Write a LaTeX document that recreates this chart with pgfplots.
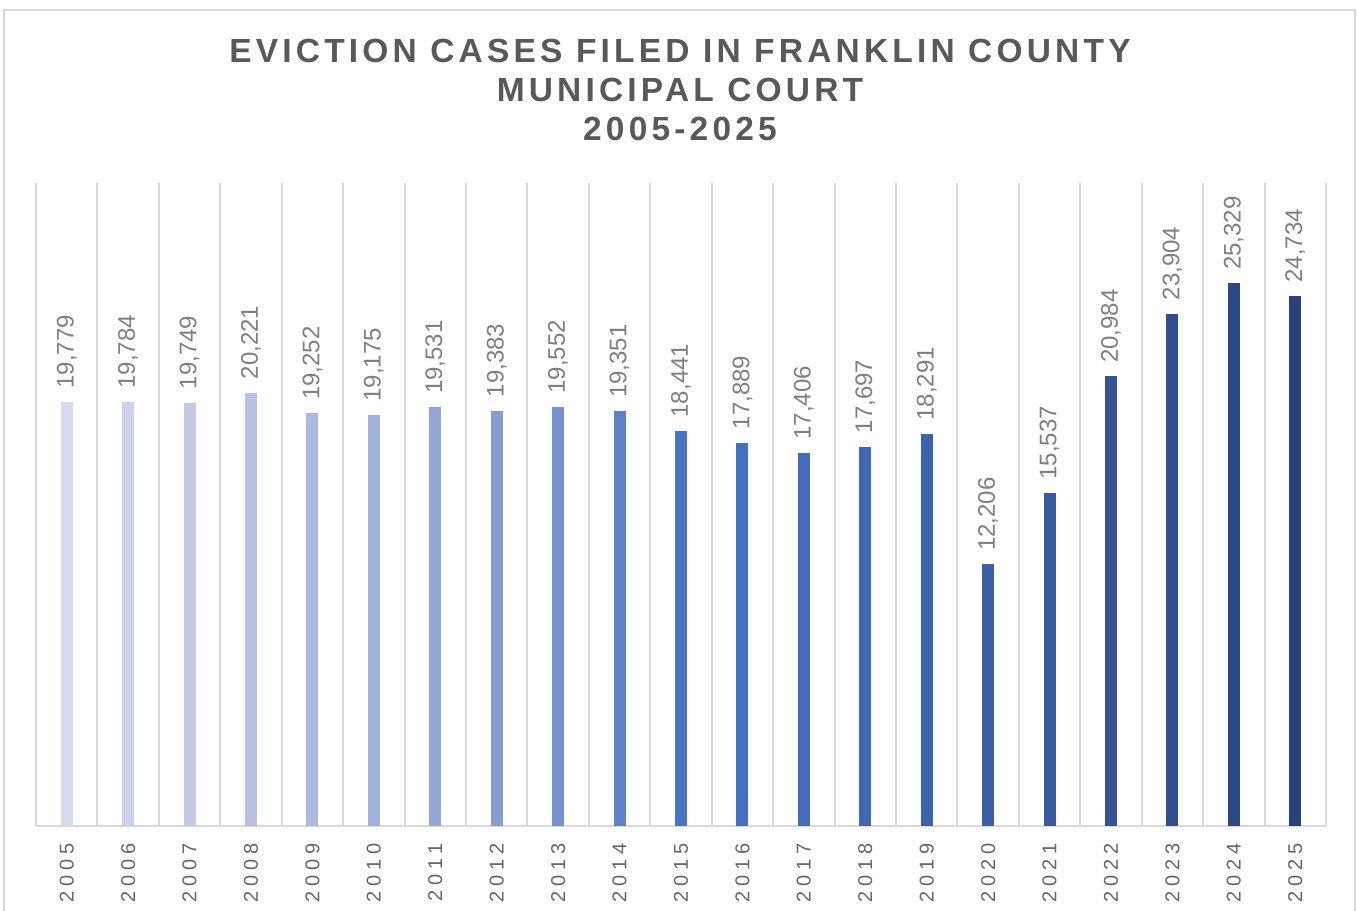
\documentclass[border=0pt]{standalone}
\usepackage{fontspec}
\setmainfont{Liberation Sans}
\newfontfamily\titlefont{Liberation Sans}[LetterSpace=12.5]
\newfontfamily\tickfont{Liberation Sans}[LetterSpace=25]
\usepackage{pgfplots}
\pgfplotsset{compat=1.18}

\definecolor{bordergray}{HTML}{D9D9D9}
\definecolor{titlegray}{HTML}{595959}
\definecolor{labelgray}{HTML}{7F7F7F}
\definecolor{tickgray}{HTML}{666666}
\definecolor{c0}{HTML}{D5DAEC}
\definecolor{c1}{HTML}{CBD2EA}
\definecolor{c2}{HTML}{C2CAE6}
\definecolor{c3}{HTML}{B7C1E2}
\definecolor{c4}{HTML}{ACB8DF}
\definecolor{c5}{HTML}{A1AFDB}
\definecolor{c6}{HTML}{95A6D8}
\definecolor{c7}{HTML}{889CD4}
\definecolor{c8}{HTML}{7591CF}
\definecolor{c9}{HTML}{5E82CA}
\definecolor{c10}{HTML}{4874C5}
\definecolor{c11}{HTML}{4470C2}
\definecolor{c12}{HTML}{426CBB}
\definecolor{c13}{HTML}{3F67B3}
\definecolor{c14}{HTML}{3C63AC}
\definecolor{c15}{HTML}{3A5FA6}
\definecolor{c16}{HTML}{38599F}
\definecolor{c17}{HTML}{345497}
\definecolor{c18}{HTML}{2F4E8D}
\definecolor{c19}{HTML}{2A4884}
\definecolor{c20}{HTML}{27437B}

\begin{document}
\begin{tikzpicture}
% chart area border (bottom edge is cut off in the reference)
\draw[bordergray, line width=0.9pt] (2pt,-5pt) rectangle (677.5pt,450.5pt);

\begin{scope}[every node/.style={anchor=base, text=titlegray,
    font=\titlefont\bfseries\fontsize{16.75}{20}\selectfont}]
  \node at (340pt,424pt) {EVICTION CASES FILED IN FRANKLIN COUNTY};
  \node at (340pt,404.5pt) {MUNICIPAL COURT};
  \node at (340pt,385pt) {2005-2025};
\end{scope}

\begin{axis}[
  at={(18pt,42.5pt)}, anchor=south west,
  scale only axis, width=645pt, height=321.5pt,
  xmin=-0.5, xmax=20.5, ymin=0, ymax=30000,
  ybar, bar width=6pt, bar shift=0pt,
  axis x line*=bottom, axis y line=none, ytick=\empty,
  x axis line style={bordergray, line width=1pt},
  xtick={0,...,20},
  xticklabels={2005,2006,2007,2008,2009,2010,2011,2012,2013,2014,2015,
               2016,2017,2018,2019,2020,2021,2022,2023,2024,2025},
  major tick length=0pt, minor tick length=0pt,
  minor xtick={-0.5,0.5,...,20.5},
  xminorgrids, minor grid style={bordergray, line width=1pt},
  xticklabel style={rotate=90, anchor=east, inner sep=0pt, text=tickgray,
                    font=\tickfont\fontsize{10}{10}\selectfont},
  xticklabel shift=8.5pt,
  /pgf/number format/assume math mode=true,
  /pgf/number format/1000 sep={,},
  nodes near coords,
  every node near coord/.append style={rotate=90, anchor=west, inner sep=0pt,
      inner xsep=6.5pt, text=labelgray, font=\fontsize{12}{12}\selectfont},
]
\addplot[fill=c0,  draw=none] coordinates {(0,19779)};
\addplot[fill=c1,  draw=none] coordinates {(1,19784)};
\addplot[fill=c2,  draw=none] coordinates {(2,19749)};
\addplot[fill=c3,  draw=none] coordinates {(3,20221)};
\addplot[fill=c4,  draw=none] coordinates {(4,19252)};
\addplot[fill=c5,  draw=none] coordinates {(5,19175)};
\addplot[fill=c6,  draw=none] coordinates {(6,19531)};
\addplot[fill=c7,  draw=none] coordinates {(7,19383)};
\addplot[fill=c8,  draw=none] coordinates {(8,19552)};
\addplot[fill=c9,  draw=none] coordinates {(9,19351)};
\addplot[fill=c10, draw=none] coordinates {(10,18441)};
\addplot[fill=c11, draw=none] coordinates {(11,17889)};
\addplot[fill=c12, draw=none] coordinates {(12,17406)};
\addplot[fill=c13, draw=none] coordinates {(13,17697)};
\addplot[fill=c14, draw=none] coordinates {(14,18291)};
\addplot[fill=c15, draw=none] coordinates {(15,12206)};
\addplot[fill=c16, draw=none] coordinates {(16,15537)};
\addplot[fill=c17, draw=none] coordinates {(17,20984)};
\addplot[fill=c18, draw=none] coordinates {(18,23904)};
\addplot[fill=c19, draw=none] coordinates {(19,25329)};
\addplot[fill=c20, draw=none] coordinates {(20,24734)};
\end{axis}

\pgfresetboundingbox
\useasboundingbox (0,0) rectangle (678.5pt,455.5pt);
\end{tikzpicture}
\end{document}
